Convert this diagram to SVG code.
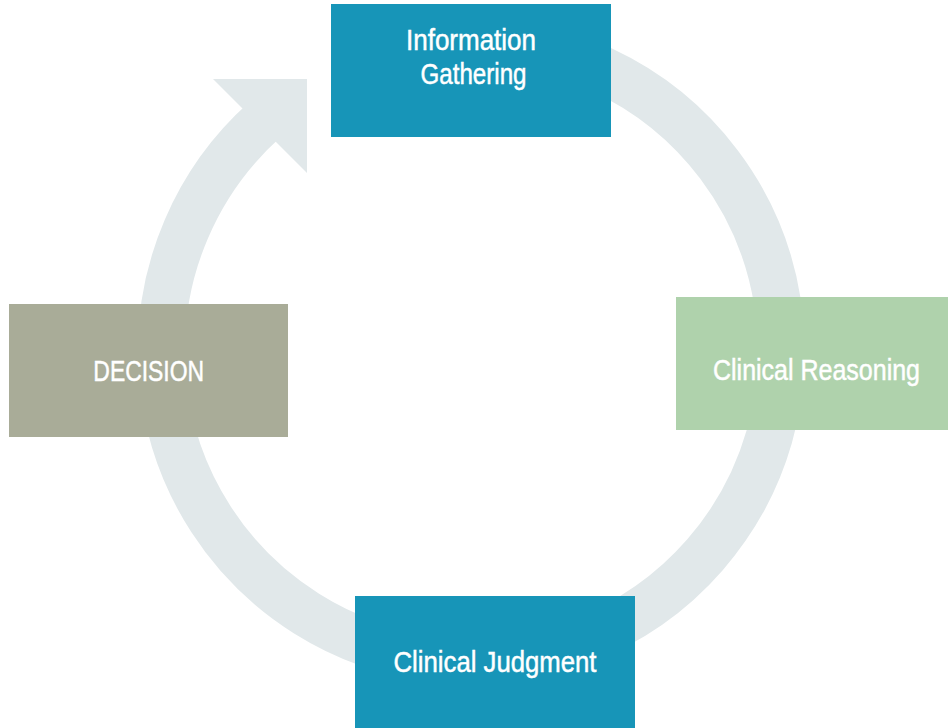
<svg xmlns="http://www.w3.org/2000/svg" width="948" height="728" viewBox="0 0 948 728">
  <style>
    .ring { fill: none; stroke: #e1e8ea; stroke-width: 47; }
    .head { fill: #e1e8ea; }
    .teal { fill: #1795b8; }
    .sage { fill: #a9ac98; }
    .mint { fill: #afd2ac; }
    .lbl { font-family: "Liberation Sans", Arial, sans-serif; font-size: 30px; fill: #ffffff; stroke: #ffffff; stroke-width: 0.5px; text-anchor: middle; }
  </style>
  <rect width="948" height="728" fill="#ffffff"/>

  <!-- circular cycle arrow: arc runs slightly into the head to avoid a seam -->
  <g id="connectors">
    <path class="ring" d="M 471.5 41 A 310 310 0 1 1 264.5 120.1"/>
    <polygon class="head" points="213,79 307,79 307,173"/>
  </g>

  <g id="info-gathering">
    <rect class="teal" x="331" y="4" width="280" height="133"/>
    <text class="lbl" x="471" y="50" textLength="130" lengthAdjust="spacingAndGlyphs">Information</text>
    <text class="lbl" x="473.5" y="84" textLength="106" lengthAdjust="spacingAndGlyphs">Gathering</text>
  </g>

  <g id="clinical-reasoning">
    <rect class="mint" x="676" y="297" width="272" height="133"/>
    <text class="lbl" x="816.5" y="379.5" textLength="207" lengthAdjust="spacingAndGlyphs">Clinical Reasoning</text>
  </g>

  <g id="clinical-judgment">
    <rect class="teal" x="355" y="596" width="280" height="132"/>
    <text class="lbl" x="495" y="672" textLength="203" lengthAdjust="spacingAndGlyphs">Clinical Judgment</text>
  </g>

  <g id="decision">
    <rect class="sage" x="9" y="304" width="279" height="133"/>
    <text class="lbl" x="148.7" y="381" textLength="110.7" lengthAdjust="spacingAndGlyphs">DECISION</text>
  </g>
</svg>
